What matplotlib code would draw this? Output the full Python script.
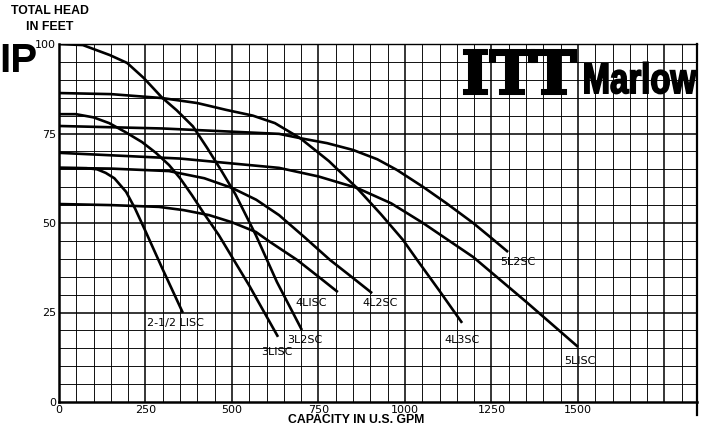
import numpy as np
import matplotlib
matplotlib.use('Agg')
import matplotlib.pyplot as plt
from matplotlib.textpath import TextPath
from matplotlib.patches import PathPatch
from matplotlib.font_manager import FontProperties
from matplotlib.transforms import Affine2D, IdentityTransform

# pump curves: capacity (GPM) vs total head (ft)
gpm_3l2sc = [0, 69, 147, 197, 245, 298, 340, 387, 428, 470, 510, 569, 630, 702]
ft_3l2sc = [100, 99.7, 96.9, 94.7, 90.5, 85.0, 81.5, 77.0, 71.0, 64.5, 58.0, 46.6, 33.5, 20.1]

gpm_4l3sc = [0, 150, 298, 400, 483, 560, 624, 697, 780, 861, 930, 994, 1035, 1100, 1165]
ft_4l3sc = [86.3, 86.0, 84.9, 83.5, 81.6, 80.0, 77.9, 73.7, 67.3, 59.8, 52.5, 45.3, 39.7, 31.0, 22.1]

gpm_5l2sc = [0, 300, 636, 697, 775, 850, 920, 977, 1052, 1120, 1197, 1246, 1298]
ft_5l2sc = [77.1, 76.4, 74.9, 73.7, 72.3, 70.4, 67.8, 64.8, 60.1, 55.5, 50.0, 46.1, 41.9]

gpm_5l1sc = [0, 350, 636, 750, 861, 960, 1052, 1197, 1350, 1500]
ft_5l1sc = [69.6, 68.0, 65.4, 63.0, 59.8, 55.5, 50.0, 40.5, 28.0, 15.4]

gpm_3l1sc = [0, 49, 100, 145, 190, 240, 280, 318, 350, 384, 420, 462, 550, 633]
ft_3l1sc = [80.4, 80.4, 79.5, 77.9, 75.5, 72.6, 69.6, 66.2, 62.5, 57.8, 52.5, 46.6, 32.5, 18.2]

gpm_2l1sc = [0, 80, 110, 135, 160, 194, 220, 251, 300, 358]
ft_2l1sc = [65.4, 65.3, 65.0, 64.0, 62.5, 58.7, 54.0, 47.5, 37.0, 24.9]

gpm_4l2sc = [0, 150, 318, 420, 500, 570, 636, 710, 783, 845, 905]
ft_4l2sc = [65.4, 65.2, 64.5, 62.5, 59.8, 56.5, 52.2, 46.0, 39.7, 35.0, 30.4]

gpm_4l1sc = [0, 150, 289, 360, 434, 500, 569, 610, 688, 750, 806]
ft_4l1sc = [55.3, 55.0, 54.5, 53.6, 52.2, 50.2, 47.5, 44.7, 39.7, 35.0, 30.7]

curves = [
    (gpm_2l1sc, ft_2l1sc, '2-1/2 LISC', 254, 22),
    (gpm_3l1sc, ft_3l1sc, '3LISC', 584, 14),
    (gpm_3l2sc, ft_3l2sc, '3L2SC', 659, 17.3),
    (gpm_4l1sc, ft_4l1sc, '4LISC', 682, 27.7),
    (gpm_4l2sc, ft_4l2sc, '4L2SC', 876, 27.7),
    (gpm_4l3sc, ft_4l3sc, '4L3SC', 1113, 17.3),
    (gpm_5l1sc, ft_5l1sc, '5LISC', 1460, 11.5),
    (gpm_5l2sc, ft_5l2sc, '5L2SC', 1275, 39),
]

x_ticks = [0, 250, 500, 750, 1000, 1250, 1500]
y_ticks = [0, 25, 50, 75, 100]

W, H = 703, 432
fig = plt.figure(figsize=(W / 100, H / 100), dpi=100)
ax = fig.add_axes([59/W, 30/H, 638/W, 358/H])

# grid like graph paper
for gx in np.arange(50, 1850, 50):
    major = gx % 250 == 0
    ax.axvline(gx, color='k', lw=1.1 if major else 0.65, zorder=1)
for gy in np.arange(5, 100, 5):
    major = gy % 25 == 0
    ax.axhline(gy, color='k', lw=1.1 if major else 0.65, zorder=1)

for gx, gy, name, lx, ly in curves:
    ax.plot(gx, gy, color='k', lw=1.9, zorder=3, solid_capstyle='butt', solid_joinstyle='round')
    ax.text(lx, ly, name, fontsize=8, va='center', ha='left', zorder=4)

ax.set_xlim(0, 1844)
ax.set_ylim(0, 100)
ax.set_xticks(x_ticks)
ax.set_xticklabels([str(t) for t in x_ticks], fontsize=8)
ax.set_yticks(y_ticks)
ax.set_yticklabels([str(t) for t in y_ticks], fontsize=8)
ax.tick_params(length=0, pad=2)
for s in ['left', 'bottom']:
    ax.spines[s].set_linewidth(1.8)
ax.spines['top'].set_linewidth(1.0)
ax.spines['right'].set_visible(False)
ax.plot([1, 1], [-0.036, 1], transform=ax.transAxes, clip_on=False, color='k', lw=1.6)

bold = dict(fontsize=8.8, fontweight='bold', family='Liberation Sans', ha='center', va='center')
fig.text(49.5/W, 1 - 11/H, 'TOTAL HEAD', **bold)
fig.text(49.5/W, 1 - 26.5/H, 'IN FEET', **bold)
fig.text(356/W, 1 - 420/H, 'CAPACITY IN U.S. GPM', **bold)
fig.text(37/W, 1 - 72/H, 'IP', fontsize=29, fontweight='bold', ha='right', va='baseline',
         family='Liberation Sans')


# logo, fitted into a pixel box (x0, x1, top, bottom from top of image), stroked to look heavy
def logo_text(s, family, x0, x1, top, bottom, stroke):
    prop = FontProperties(family=family, weight='bold')
    tp = TextPath((0, 0), s, size=1, prop=prop)
    bb = tp.get_extents()
    cap = TextPath((0, 0), s[0], size=1, prop=prop).get_extents()
    pad = stroke * 0.7
    sx = (x1 - x0 - 2 * pad) / bb.width
    sy = (bottom - top - 2 * pad) / cap.height
    tr = Affine2D().translate(-bb.x0, 0).scale(sx, sy).translate(x0 + pad, H - bottom + pad)
    fig.add_artist(PathPatch(tp, transform=tr + IdentityTransform(), facecolor='k',
                             edgecolor='k', lw=stroke, zorder=5))


logo_text('ITT', 'DejaVu Serif', 462, 577, 48, 95, 2.2)
logo_text('Marlow', 'Liberation Sans', 584, 697, 63, 94, 1.2)

fig.savefig('out.png', dpi=100)
